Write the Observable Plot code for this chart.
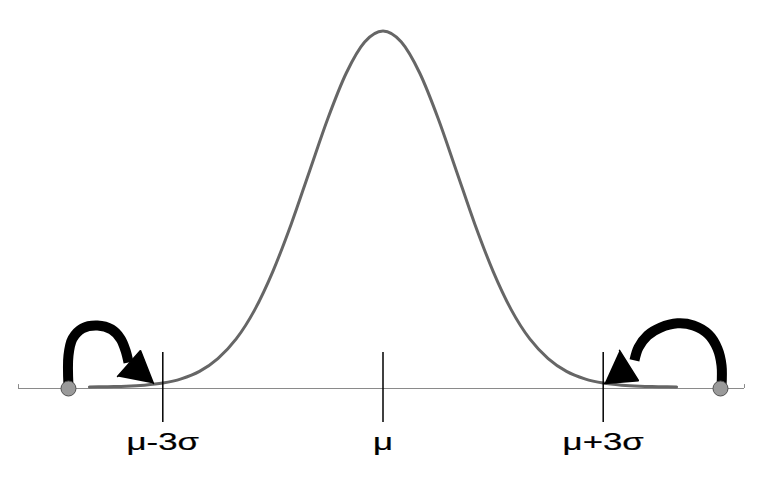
<!DOCTYPE html>
<html>
<head>
<meta charset="utf-8">
<script src="https://cdn.jsdelivr.net/npm/d3@7"></script>
<script src="https://cdn.jsdelivr.net/npm/@observablehq/plot@0.6"></script>
<style>
  html, body { margin: 0; padding: 0; background: #fff; }
  #chart svg { display: block; overflow: visible; }
</style>
</head>
<body>
<div id="chart"></div>
<script>
// Standardised positions (z, in σ units) and relative heights (peak = 1)
const curveZ = [-4, -3.75, -3.5, -3.25, -3, -2.75, -2.5, -2.25, -2, -1.75, -1.5, -1.25, -1, -0.75, -0.5, -0.25, 0,
                0.25, 0.5, 0.75, 1, 1.25, 1.5, 1.75, 2, 2.25, 2.5, 2.75, 3, 3.25, 3.5, 3.75, 4];
const curveH = [0.000, 0.001, 0.002, 0.005, 0.011, 0.023, 0.044, 0.080, 0.135, 0.216, 0.325, 0.458, 0.607, 0.755, 0.882, 0.969, 1.000,
                0.969, 0.882, 0.755, 0.607, 0.458, 0.325, 0.216, 0.135, 0.080, 0.044, 0.023, 0.011, 0.005, 0.002, 0.001, 0.000];

const tickZ = [-3, 0, 3];
const tickLabels = ["μ-3σ", "μ", "μ+3σ"];

const baselineZ = [-4.966, 4.925];

const outlierZ = [-4.285, 4.598];

const leftArcZ = [-4.285, -4.285, -4.230, -4.094, -3.890, -3.699, -3.576, -3.508, -3.467];
const leftArcH = [0.006, 0.093, 0.140, 0.169, 0.177, 0.166, 0.140, 0.107, 0.073];
const rightArcZ = [4.612, 4.612, 4.557, 4.434, 4.230, 4.012, 3.781, 3.604, 3.481, 3.426];
const rightArcH = [0.006, 0.065, 0.112, 0.152, 0.177, 0.183, 0.171, 0.149, 0.115, 0.079];

const leftHeadZ = [-3.617, -3.304, -3.127];
const leftHeadH = [0.034, 0.107, 0.014];
const rightHeadZ = [3.222, 3.481, 3.018];
const rightHeadH = [0.107, 0.022, 0.014];

const curve = curveZ.map((z, i) => ({z, h: curveH[i]}));
const ticks = tickZ.map((z, i) => ({z, label: tickLabels[i]}));
const leftArc = leftArcZ.map((z, i) => ({z, h: leftArcH[i]}));
const rightArc = rightArcZ.map((z, i) => ({z, h: rightArcH[i]}));
const leftHead = leftHeadZ.map((z, i) => ({z, h: leftHeadH[i]}));
const rightHead = rightHeadZ.map((z, i) => ({z, h: rightHeadH[i]}));

const mu = 382.5, sigma = 73.4;

const plot = Plot.plot({
  width: 769,
  height: 481,
  margin: 0,
  style: {background: "#fff", fontFamily: "'Liberation Sans', Arial, sans-serif"},
  x: {domain: [-4, 4], range: [mu - 4 * sigma, mu + 4 * sigma], axis: null},
  y: {domain: [0, 1], range: [388, 32], axis: null},
  marks: [
    Plot.ruleY([0], {x1: baselineZ[0], x2: baselineZ[1], stroke: "#8a8a8a", strokeWidth: 1}),
    Plot.ruleX(baselineZ, {y1: 0, y2: 0.011, stroke: "#8a8a8a", strokeWidth: 1}),
    Plot.line(curve, {x: "z", y: "h", stroke: "#666", strokeWidth: 3, curve: "monotone-x", dy: -1.5}),
    Plot.ruleX(ticks, {x: "z", y1: -0.0955, y2: 0.101, stroke: "#000", strokeWidth: 1.5}),
    Plot.line(leftArc, {x: "z", y: "h", stroke: "#000", strokeWidth: 10, curve: "catmull-rom", strokeLinecap: "butt"}),
    Plot.line(rightArc, {x: "z", y: "h", stroke: "#000", strokeWidth: 10, curve: "catmull-rom", strokeLinecap: "butt"}),
    Plot.line(leftHead, {x: "z", y: "h", fill: "#000", stroke: "#000", strokeWidth: 1.5, strokeLinejoin: "miter"}),
    Plot.line(rightHead, {x: "z", y: "h", fill: "#000", stroke: "#000", strokeWidth: 1.5, strokeLinejoin: "miter"}),
    Plot.dot(outlierZ, {x: d => d, y: 0, r: 7.5, fill: "#9a9a9a", stroke: "#505050", strokeWidth: 1}),
    Plot.text(ticks, {x: "z", y: -0.174, text: "label", fontSize: 24, fill: "#000", stroke: "#000", strokeWidth: 0.2, textAnchor: "middle", lineAnchor: "bottom"})
  ]
});

d3.select(plot).selectAll("g[aria-label=text] text").each(function () {
  const t = this.getAttribute("transform") || "";
  this.setAttribute("transform", t + " scale(1.45,1)");
});

document.getElementById("chart").appendChild(plot);
</script>
</body>
</html>
